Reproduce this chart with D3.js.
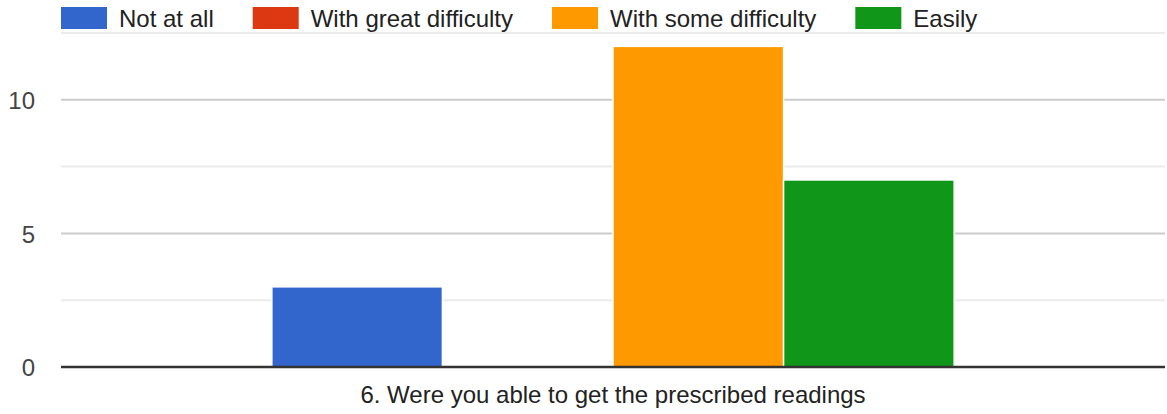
<!DOCTYPE html>
<html>
<head>
<meta charset="utf-8">
<script src="https://cdn.jsdelivr.net/npm/d3@7"></script>
<style>
  html, body { margin: 0; padding: 0; background: #fff; }
  svg { display: block; font-family: "Liberation Sans", Arial, sans-serif; }
</style>
</head>
<body>
<svg id="chart" width="1167" height="414"></svg>
<script>
// ---- data ----
const categories = ["6. Were you able to get the prescribed readings"];
const seriesNames = ["Not at all", "With great difficulty", "With some difficulty", "Easily"];
const seriesColors = ["#3366cc", "#dc3912", "#ff9900", "#109618"];
const seriesValues = [3, 0, 12, 7];   // one value per series for the single category
const majorTicks = [0, 5, 10];
const minorTicks = [2.5, 7.5, 12.5];
const yMax = 12.5;

// ---- layout ----
const W = 1167, H = 414;
const margin = { left: 61, right: 2, top: 33, bottom: 47 };
const svg = d3.select("#chart");
const x0 = d3.scaleBand().domain(categories)
  .range([margin.left, W - margin.right])
  .paddingInner(0).paddingOuter(0.309);
const x1 = d3.scaleBand().domain(seriesNames)
  .range([0, x0.bandwidth()]).padding(0);
const y = d3.scaleLinear().domain([0, yMax]).range([H - margin.bottom, margin.top]);

// gridlines
svg.append("g").selectAll("line").data(minorTicks).join("line")
  .attr("x1", margin.left).attr("x2", W - margin.right)
  .attr("y1", d => y(d)).attr("y2", d => y(d))
  .attr("stroke", "#ebebeb").attr("stroke-width", 2);
svg.append("g").selectAll("line").data(majorTicks.filter(d => d !== 0)).join("line")
  .attr("x1", margin.left).attr("x2", W - margin.right)
  .attr("y1", d => y(d)).attr("y2", d => y(d))
  .attr("stroke", "#cccccc").attr("stroke-width", 2);

// y tick labels via axis
const yAxis = svg.append("g")
  .attr("transform", `translate(${margin.left - 26},0)`)
  .call(d3.axisLeft(y).tickValues(majorTicks).tickSize(0).tickPadding(0).tickFormat(d3.format("d")));
yAxis.select(".domain").remove();
yAxis.selectAll("text")
  .attr("font-size", 24).attr("fill", "#444")
  .attr("font-family", "'Liberation Sans', Arial, sans-serif")
  .attr("dy", "0.36em");

// bars
const g = svg.append("g");
categories.forEach(cat => {
  g.selectAll(null).data(seriesNames.map((s, i) => ({ s, v: seriesValues[i], c: seriesColors[i] })))
    .join("rect")
    .attr("x", d => x0(cat) + x1(d.s))
    .attr("width", x1.bandwidth())
    .attr("y", d => y(d.v))
    .attr("height", d => y(0) - y(d.v))
    .attr("fill", d => d.c)
    .attr("stroke", "#fff").attr("stroke-width", 1.5);
});

// baseline
svg.append("line")
  .attr("x1", margin.left).attr("x2", W - margin.right)
  .attr("y1", y(0)).attr("y2", y(0))
  .attr("stroke", "#333").attr("stroke-width", 2.6);

// x axis category label
const xAxis = svg.append("g")
  .attr("transform", `translate(0,${y(0)})`)
  .call(d3.axisBottom(x0).tickSize(0).tickPadding(0));
xAxis.select(".domain").remove();
xAxis.selectAll("text")
  .attr("font-size", 24).attr("fill", "#222")
  .attr("font-family", "'Liberation Sans', Arial, sans-serif")
  .attr("dy", null).attr("y", 36);

// legend
const legend = svg.append("g");
let lx = 61;
seriesNames.forEach((name, i) => {
  legend.append("rect")
    .attr("x", lx).attr("y", 7).attr("width", 46).attr("height", 22)
    .attr("fill", seriesColors[i]);
  const t = legend.append("text")
    .attr("x", lx + 58).attr("y", 27)
    .attr("font-size", 24).attr("fill", "#222")
    .text(name);
  lx = lx + 58 + t.node().getComputedTextLength() + 39;
});
</script>
</body>
</html>
